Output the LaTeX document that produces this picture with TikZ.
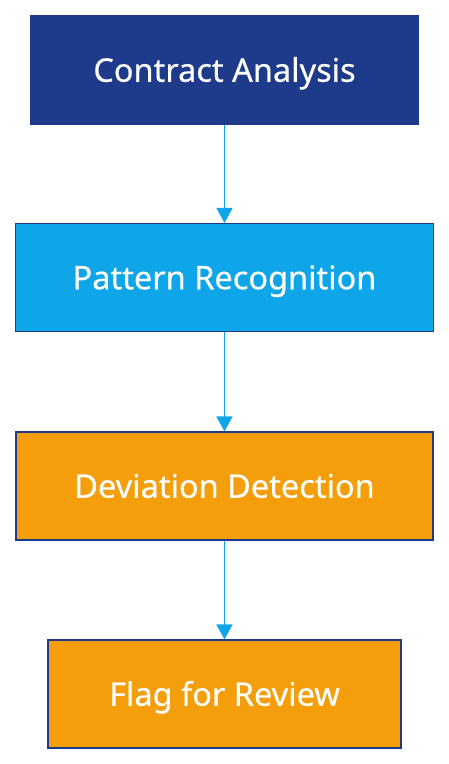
\documentclass[tikz,border=0pt]{standalone}
\usepackage{fontspec}
\setmainfont{Noto Sans}[FakeBold=0.4]
\usetikzlibrary{arrows.meta}
\definecolor{navy}{HTML}{1E3A8A}
\definecolor{sky}{HTML}{0EA5E9}
\definecolor{amber}{HTML}{F59E0B}
\begin{document}
\begin{tikzpicture}[x=1pt,y=-1pt,
  box/.style={draw=navy, line width=1.2pt, text=white, inner sep=0pt,
    font=\fontsize{32.5}{36}\selectfont\bfseries, anchor=center,
    text height=23.5pt, text depth=0pt},
  conn/.style={draw=sky, line width=1.5pt, -{Triangle[length=15pt,width=16pt]}}]
\useasboundingbox (0,0) rectangle (448,764);
\fill[white] (0,0) rectangle (448,764);
\node[box, fill=navy, minimum width=388pt, minimum height=109pt] (a) at (224.5,70) {Contract Analysis};
\node[box, fill=sky, minimum width=418pt, minimum height=108pt] (b) at (224.5,277.5) {Pattern Recognition};
\node[box, fill=amber, minimum width=417pt, minimum height=108pt] (c) at (224.5,486) {Deviation Detection};
\node[box, fill=amber, minimum width=353pt, minimum height=108pt] (d) at (224.5,694) {Flag for Review};
\draw[conn] (a) -- (b);
\draw[conn] (b) -- (c);
\draw[conn] (c) -- (d);
\end{tikzpicture}
\end{document}
